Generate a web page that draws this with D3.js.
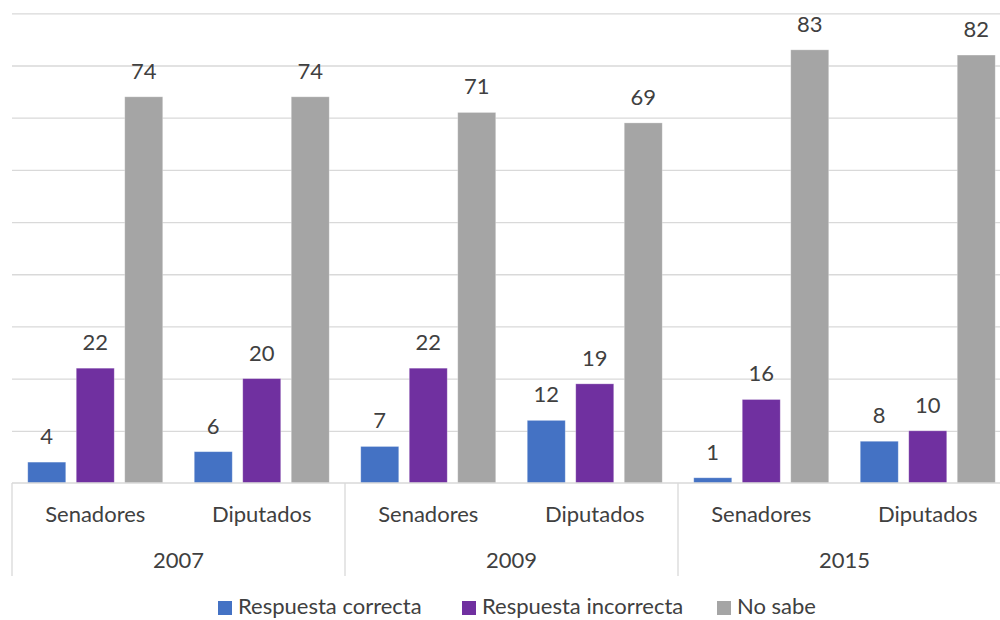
<!DOCTYPE html>
<html>
<head>
<meta charset="utf-8">
<script src="https://cdn.jsdelivr.net/npm/d3@7"></script>
<style>
  html, body { margin: 0; padding: 0; background: #fff; }
  svg { display: block; }
  text { font-family: Lato, "Open Sans", sans-serif; fill: #404040; }
</style>
</head>
<body>
<svg id="chart" width="1000" height="620"></svg>
<script>
// Survey results grouped by year and chamber
const years = ["2007", "2009", "2015"];
const chambers = ["Senadores", "Diputados"];
const seriesNames = ["Respuesta correcta", "Respuesta incorrecta", "No sabe"];
const seriesColors = ["#4472C4", "#7030A0", "#A5A5A5"];

// One value per (year, chamber) in the order 2007 Sen, 2007 Dip, 2009 Sen, ...
const correcta   = [4, 6, 7, 12, 1, 8];
const incorrecta = [22, 20, 22, 19, 16, 10];
const noSabe     = [74, 74, 71, 69, 83, 82];
const yTicks = [0, 10, 20, 30, 40, 50, 60, 70, 80, 90];

const seriesValues = [correcta, incorrecta, noSabe];
const fontSize = 22;

const svg = d3.select("#chart");
const plotLeft = 12, plotRight = 1011, plotTop = 13.3, plotBottom = 483;

const categories = [];
years.forEach(y => chambers.forEach(c => categories.push(y + "|" + c)));

const xGroup = d3.scaleBand().domain(years).range([plotLeft, plotRight]);
const xCat = d3.scaleBand().domain(categories).range([plotLeft, plotRight]);
const xSeries = d3.scaleBand().domain(seriesNames)
  .range([0, xCat.bandwidth()]).paddingInner(0.2165).paddingOuter(0.325);
const y = d3.scaleLinear().domain([0, 90]).range([plotBottom, plotTop]);

// Horizontal gridlines
const yAxis = d3.axisLeft(y).tickValues(yTicks.slice(1)).tickSize(-(plotRight - plotLeft)).tickFormat("");
const gGrid = svg.append("g").attr("transform", `translate(${plotLeft},0)`).call(yAxis);
gGrid.select(".domain").remove();
gGrid.selectAll("line").attr("stroke", "#D9D9D9").attr("stroke-width", 1.3);

// Bars and value labels
const gBars = svg.append("g");
seriesNames.forEach((name, si) => {
  const data = categories.map((c, i) => ({ cat: c, value: seriesValues[si][i] }));
  gBars.selectAll(null).data(data).enter().append("rect")
    .attr("x", d => xCat(d.cat) + xSeries(name))
    .attr("y", d => y(d.value))
    .attr("width", xSeries.bandwidth())
    .attr("height", d => y(0) - y(d.value))
    .attr("fill", seriesColors[si])
    .attr("stroke", "#ffffff").attr("stroke-opacity", 0.35).attr("stroke-width", 0.8);
  gBars.selectAll(null).data(data).enter().append("text")
    .attr("x", d => xCat(d.cat) + xSeries(name) + xSeries.bandwidth() / 2)
    .attr("y", d => y(d.value) - 18)
    .attr("text-anchor", "middle")
    .attr("font-size", fontSize)
    .text(d => d.value);
});

// Category axis: baseline, group separators, labels
const gAxis = svg.append("g");
gAxis.append("line")
  .attr("x1", plotLeft).attr("x2", plotRight)
  .attr("y1", plotBottom).attr("y2", plotBottom)
  .attr("stroke", "#D9D9D9").attr("stroke-width", 1.3);
years.forEach(yr => {
  gAxis.append("line")
    .attr("x1", xGroup(yr)).attr("x2", xGroup(yr))
    .attr("y1", plotBottom).attr("y2", 576)
    .attr("stroke", "#D9D9D9").attr("stroke-width", 1.3);
});
gAxis.selectAll(null).data(categories).enter().append("text")
  .attr("x", d => xCat(d) + xCat.bandwidth() / 2)
  .attr("y", 522)
  .attr("text-anchor", "middle")
  .attr("font-size", fontSize)
  .text(d => d.split("|")[1]);
gAxis.selectAll(null).data(years).enter().append("text")
  .attr("x", d => xGroup(d) + xGroup.bandwidth() / 2)
  .attr("y", 568)
  .attr("text-anchor", "middle")
  .attr("font-size", fontSize)
  .text(d => d);

// Legend
const legendStarts = [218, 462, 717];
const gLegend = svg.append("g");
seriesNames.forEach((name, i) => {
  const gx = legendStarts[i];
  gLegend.append("rect")
    .attr("x", gx).attr("y", 601).attr("width", 14).attr("height", 14)
    .attr("fill", seriesColors[i]);
  gLegend.append("text")
    .attr("x", gx + 20).attr("y", 614)
    .attr("font-size", fontSize)
    .text(name);
});
</script>
</body>
</html>
